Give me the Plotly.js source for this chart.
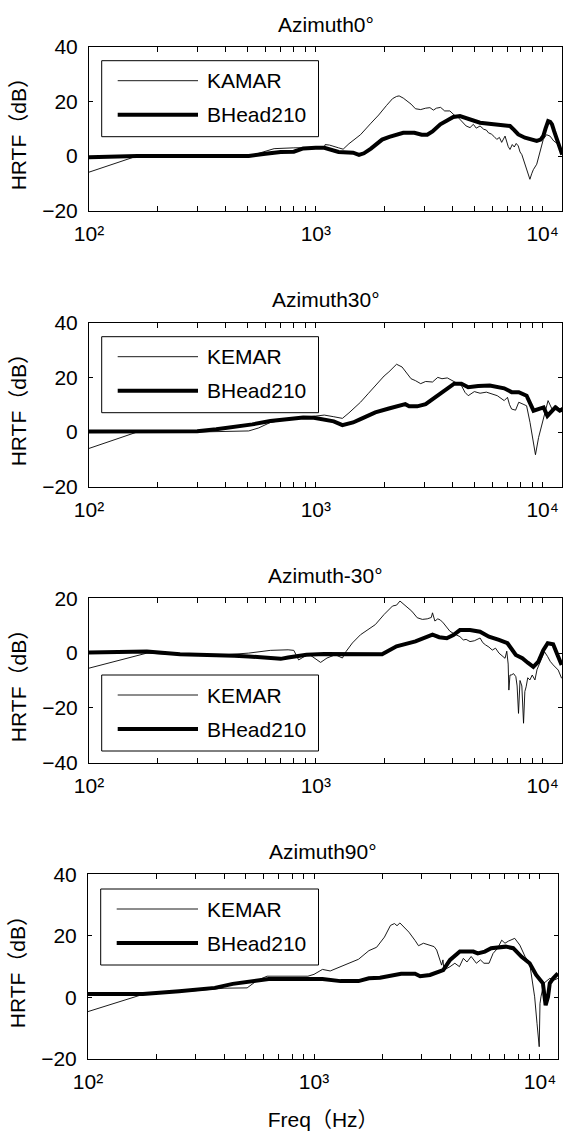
<!DOCTYPE html>
<html>
<head>
<meta charset="utf-8">
<script src="https://cdn.plot.ly/plotly-3.0.1.min.js"></script>
<style>
html,body{margin:0;padding:0;background:#fff;}
#chart{width:563px;height:1131px;}
</style>
</head>
<body>
<div id="chart"></div>
<script>
// ---------------- data ----------------
const panelTitles = ["Azimuth0°", "Azimuth30°", "Azimuth-30°", "Azimuth90°"];
const legendNames = [["KAMAR", "BHead210"], ["KEMAR", "BHead210"], ["KEMAR", "BHead210"], ["KEMAR", "BHead210"]];
const xTickVals = [100, 1000, 10000];
const xTickText = ["10²", "10³", "10⁴"];
const xMinorVals = [200, 300, 400, 500, 600, 700, 800, 900, 2000, 3000, 4000, 5000, 6000, 7000, 8000, 9000];
const yTicksA = [-20, 0, 20, 40];
const yTicksB = [-40, -20, 0, 20];
const yTitle = "HRTF（dB）";
const xTitle = "Freq（Hz）";

// Azimuth 0°
const f0K = [100,163,300,506,560,655,800,910,1050,1090,1100,1150,1260,1320,1400,1574,1750,1893,2050,2180,2270,2330,2430,2630,2750,2900,3050,3185,3300,3400,3550,3700,3900,4075,4200,4320,4450,4600,4786,4950,5100,5300,5500,5650,5770,5950,6100,6280,6450,6600,6830,6950,7050,7180,7350,7500,7650,7810,7950,8100,8360,8550,8790,8950,9100,9420,9700,10070,10400,10780,11200,11730,12200];
const h0K = [-5.9,0,0,0,1,2.7,3,3,3,3.2,4.2,4,3,2.5,4.5,7.8,12,15,18.5,21,21.8,22,21.2,19,17.3,17,17.5,17.7,16.8,17.5,17.8,16.5,16.5,15,14.5,13.4,12.5,11,10.4,11.6,10.2,11,9.8,9.5,8.5,8,7.2,6.1,6.8,5,7.3,5,3.5,2.4,4.2,3.3,4.6,3.7,1.5,0.5,-3,-5.5,-8.5,-6.5,-5,-3,1,6.1,7.8,7.3,5.5,4.3,2];
const f0B = [100,163,300,506,600,700,800,880,1000,1090,1260,1460,1550,1630,1750,1960,2110,2270,2430,2720,2930,3100,3270,3540,3800,4040,4320,4786,5300,5800,6280,7180,7500,7810,8360,8900,9420,9800,10070,10300,10580,10800,11000,11250,11500,11950,12200];
const h0B = [-0.4,0,0,0,0.8,1.5,1.6,2.8,3,3,1.5,1.2,0.4,1,2.7,6,7,7.8,8.5,8.5,7.8,7.8,9,11.6,13,14.3,14.6,13.4,12.2,11.8,11.6,11,9.5,7.9,6.7,6,5.5,6,7.3,10,12.8,12.5,11.6,9,6.7,1.8,0.5];

// Azimuth 30°
const f30K = [100,163,300,420,506,560,630,755,880,1090,1200,1310,1400,1574,1700,1830,2000,2100,2270,2400,2630,2750,2900,3050,3270,3450,3600,3800,4075,4385,4550,4700,5000,5300,5650,6000,6310,6770,7000,7150,7300,7600,7850,8200,8500,8800,9300,9600,9800,10200,10570,11000,11500,12200];
const h30K = [-6,0,0,0.3,0.4,1.5,3.5,4.7,5.3,6.2,5.6,5,7,10.9,14,17,20.5,22,24.8,23.8,19.5,18.8,17.7,18.5,18.3,20,19.5,19.8,18.5,17,14.5,13.3,14.8,14.2,14.6,13.8,13.3,11.5,12.7,10,8.4,8,10.9,10.2,9.6,3.5,-8.3,-2,1,7,11.5,8.4,9.6,7.2];
const f30B = [100,200,300,364,440,525,630,755,880,980,1090,1200,1310,1460,1574,1830,2100,2350,2480,2580,2800,3050,3270,3600,3800,4075,4385,4700,5200,5850,6770,7300,7850,8500,9120,9500,9820,10100,10500,11380,11900,12300];
const h30B = [0.2,0.3,0.3,1,1.8,2.8,4,4.7,5.3,5.2,4.4,3.9,2.5,3.5,4.7,7.2,8.6,9.9,10.2,9.4,9.4,10.2,12.1,14.5,16,17.7,17.7,16.4,16.8,17,16,14.6,14.6,13.3,7.8,8.2,8.4,9,5.9,9,7.8,8.5];

// Azimuth -30°
const fm30K = [100,180,250,400,506,630,755,800,840,900,940,1050,1120,1220,1310,1360,1450,1574,1830,2000,2180,2270,2350,2500,2650,2800,2950,3100,3230,3270,3350,3450,3540,3650,3780,3900,4040,4200,4320,4470,4600,4786,5000,5300,5450,5600,5800,6000,6200,6420,6600,6830,6950,7050,7100,7180,7270,7450,7620,7720,7830,7950,8100,8240,8350,8460,8600,8790,9000,9250,9450,9700,9950,10190,10530,10800,11130,11720,12130];
const hm30K = [-5.5,0,-0.6,-0.6,0,1,1.2,1,-2.5,-1,-0.6,-3.4,-1.8,-0.6,-1.8,0.6,3.7,6.7,10.4,14.1,17.2,17.5,19,17.2,15.3,12.9,12.3,12.5,13,14.7,11.7,12.5,12.1,11,9.6,8,7.2,6.6,6,4.8,5,4.2,4.5,5.5,3.8,3,2.2,1.1,1.8,0,-0.8,-1.9,0.7,-4,-13.5,-8,-8,-7.5,-8.6,-12,-22,-10,-12,-25.6,-14,-12.3,-9,-9.8,-8,-9.8,-6,-3.7,-1,0.5,-1.3,-3,-4.3,-6.2,-9.2];
const fm30B = [100,180,252,364,437,506,630,700,755,910,1090,1500,1960,2270,2750,3270,3500,3780,4040,4320,4786,5300,5800,6420,7000,7620,8140,8600,9100,9580,10070,10530,11130,11720,12130];
const hm30B = [0.2,0.6,-0.4,-0.6,-1,-1.2,-1.6,-2.1,-1.6,-0.6,-0.3,-0.4,-0.4,2.5,4.3,6.7,5.8,5.4,6.6,8.4,8.4,7.8,6,4.8,3.6,-0.7,-1.9,-3.5,-5,-3.1,1.1,3.6,3.2,-1.3,-4.3];

// Azimuth 90°
const f90K = [100,175,300,400,506,560,620,755,940,1000,1090,1180,1260,1400,1574,1750,1893,2050,2180,2270,2330,2400,2630,2800,2900,3050,3270,3400,3490,3580,3670,3720,3760,4000,4200,4400,4580,4750,4960,5230,5450,5650,5950,6200,6500,6770,7000,7250,7730,8140,8600,9000,9300,9470,9700,9920,10000,10100,10400,11050,11600,12000];
const h90K = [-4.6,1,2.2,3,3.1,5.5,6.9,6.9,6.9,7.5,9.1,8.6,9.5,10.8,12.4,15.2,16.3,19.6,23.4,24,23.3,24.2,21.2,18.5,16.8,17.6,16.8,16.5,15.4,12.8,10.5,12.2,8.9,10,11.1,10,12.7,11.5,13.3,11.1,12.2,11.1,11.1,14.3,16,18.6,17.6,18.3,19.2,17,13.2,11.1,5,0.2,-8.4,-16,-2,0.2,4.6,6.2,5.7,6.2];
const f90B = [100,175,253,364,437,525,630,1090,1200,1310,1574,1750,1960,2180,2430,2800,2950,3260,3500,3730,4000,4420,5070,5300,5700,6080,7060,7610,8290,9000,9620,10300,10590,10850,11050,11440,12000];
const h90B = [1.1,1.1,2,3.1,4.4,5.3,6,6,5.5,5.3,5.3,6.2,6.4,6.9,7.7,7.7,6.9,7.3,8,8.9,12.2,14.9,14.9,14.3,14.9,16,16.5,16,13.2,11.1,7.3,4.6,-2.5,0.2,4.6,6.2,7.8];

const seriesK = [[f0K, h0K], [f30K, h30K], [fm30K, hm30K], [f90K, h90K]];
const seriesB = [[f0B, h0B], [f30B, h30B], [fm30B, hm30B], [f90B, h90B]];

// ---------------- layout geometry (pixels) ----------------
const W = 563, H = 1131;
const FONT = "Liberation Sans, Arial, Noto Sans CJK SC, sans-serif";
const FS = 21;
const panels = [
  {l: 89, r: 562, t: 46.7, b: 210.7, xr: [2, 4.0855], yr: [-20, 40], yt: yTicksA, titleY: 24, legTop: 60.7},
  {l: 89, r: 562, t: 322.7, b: 486.7, xr: [2, 4.0855], yr: [-20, 40], yt: yTicksA, titleY: 299, legTop: 336.7},
  {l: 89, r: 562, t: 598.3, b: 762.7, xr: [2, 4.0855], yr: [-40, 20], yt: yTicksB, titleY: 575, legTop: 675},
  {l: 88, r: 558.3, t: 874.3, b: 1059, xr: [2, 4.081], yr: [-20, 40], yt: yTicksA, titleY: 851, legTop: 889}
];
const px = p => p / W;
const py = p => 1 - p / H;

const traces = [];
const layout = {
  width: W, height: H,
  margin: {l: 0, r: 0, t: 0, b: 0, pad: 0},
  paper_bgcolor: '#fff', plot_bgcolor: '#fff',
  showlegend: false,
  font: {family: FONT, size: FS, color: '#000'},
  annotations: [], shapes: []
};

panels.forEach((p, i) => {
  const n = i + 1;
  const xa = 'xaxis' + (n === 1 ? '' : n), ya = 'yaxis' + (n === 1 ? '' : n);
  const xid = 'x' + (n === 1 ? '' : n), yid = 'y' + (n === 1 ? '' : n);
  traces.push({
    x: seriesK[i][0], y: seriesK[i][1], xaxis: xid, yaxis: yid,
    type: 'scatter', mode: 'lines', name: legendNames[i][0],
    line: {color: '#000', width: 0.9}, hoverinfo: 'skip'
  });
  traces.push({
    x: seriesB[i][0], y: seriesB[i][1], xaxis: xid, yaxis: yid,
    type: 'scatter', mode: 'lines', name: legendNames[i][1],
    line: {color: '#000', width: 4}, hoverinfo: 'skip'
  });
  layout[xa] = {
    type: 'log', domain: [px(p.l), px(p.r)], range: p.xr, anchor: yid,
    tickmode: 'array', tickvals: xTickVals, ticktext: xTickText,
    ticks: 'inside', ticklen: 5, tickwidth: 1, tickcolor: '#000',
    minor: {tickmode: 'array', tickvals: xMinorVals, ticks: 'inside', ticklen: 5, tickwidth: 1, tickcolor: '#000', showgrid: false},
    showline: true, linecolor: '#000', linewidth: 1, mirror: 'ticks',
    showgrid: false, zeroline: false, ticklabelstandoff: 4,
    tickfont: {family: FONT, size: FS, color: '#000'}
  };
  if (n === 4) {
    layout[xa].title = {text: xTitle, font: {family: FONT, size: FS, color: '#000'}, standoff: 20};
  }
  layout[ya] = {
    domain: [py(p.b), py(p.t)], range: p.yr, anchor: xid,
    tickmode: 'array', tickvals: p.yt,
    ticks: 'inside', ticklen: 4, tickwidth: 1, tickcolor: '#000',
    showline: true, linecolor: '#000', linewidth: 1, mirror: 'ticks',
    showgrid: false, zeroline: false, ticklabelstandoff: 6,
    tickfont: {family: FONT, size: FS, color: '#000'},
    title: {text: yTitle, font: {family: FONT, size: FS, color: '#000'}, standoff: 9}
  };
  // subplot title
  layout.annotations.push({
    text: panelTitles[i], xref: 'paper', yref: 'paper',
    x: px((p.l + p.r) / 2), y: py(p.titleY), xanchor: 'center', yanchor: 'middle',
    showarrow: false, font: {family: FONT, size: FS, color: '#000'}
  });
  // legend box (drawn as decoration)
  const bx0 = p.l + 12.7, bx1 = 318.5, by0 = p.legTop, by1 = p.legTop + 76;
  layout.shapes.push({type: 'rect', xref: 'paper', yref: 'paper',
    x0: px(bx0), x1: px(bx1), y0: py(by1), y1: py(by0),
    line: {color: '#000', width: 1}, fillcolor: '#fff', layer: 'above'});
  const rows = [by0 + 20, by0 + 54];
  const widths = [0.9, 4];
  rows.forEach((ry, k) => {
    layout.shapes.push({type: 'line', xref: 'paper', yref: 'paper',
      x0: px(bx0 + 16), x1: px(198), y0: py(ry), y1: py(ry),
      line: {color: '#000', width: widths[k]}, layer: 'above'});
    layout.annotations.push({
      text: legendNames[i][k], xref: 'paper', yref: 'paper',
      x: px(205), y: py(ry), xanchor: 'left', yanchor: 'middle',
      showarrow: false, font: {family: FONT, size: FS, color: '#000'}
    });
  });
});

Plotly.newPlot('chart', traces, layout, {displayModeBar: false, staticPlot: true});
</script>
</body>
</html>
